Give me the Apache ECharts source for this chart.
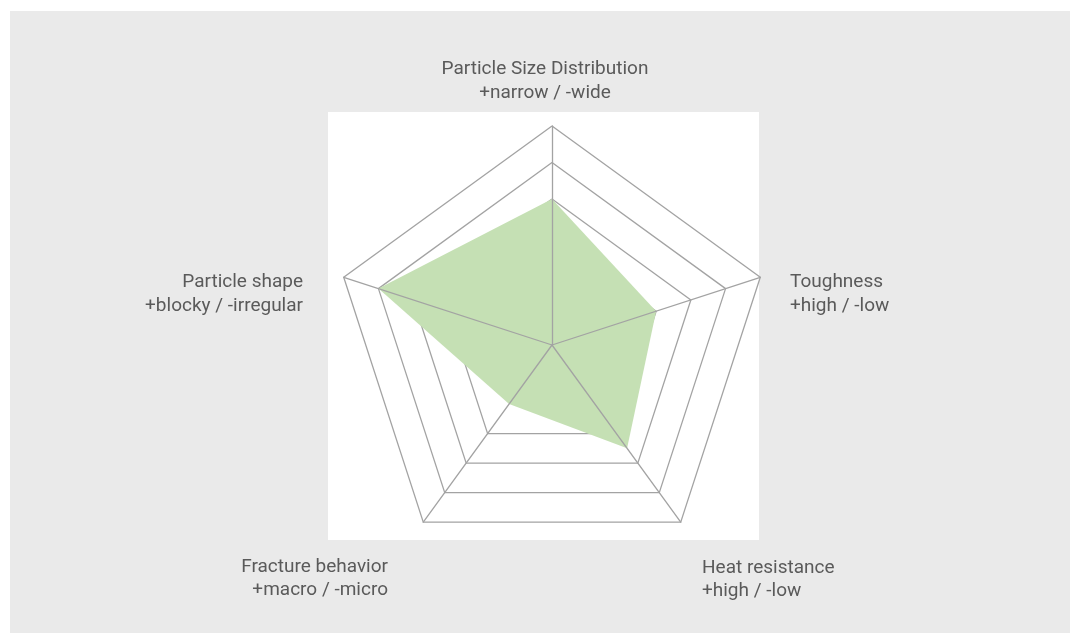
<!DOCTYPE html>
<html>
<head>
<meta charset="utf-8">
<script src="https://cdn.jsdelivr.net/npm/echarts@6/dist/echarts.min.js"></script>
<style>
  html, body { margin: 0; padding: 0; background: #ffffff; }
  #chart { width: 1070px; height: 633px; }
</style>
</head>
<body>
<div id="chart"></div>
<script>
// ---- data ----
const axisNames = ['Particle Size Distribution', 'Particle shape', 'Fracture behavior', 'Heat resistance', 'Toughness'];
const axisHints = ['+narrow / -wide', '+blocky / -irregular', '+macro / -micro', '+high / -low', '+high / -low'];
const values = [1, 2, -1, 0.5, 0];
const scaleMin = -3;
const scaleMax = 3;

// ---- chart ----
const chart = echarts.init(document.getElementById('chart'), null, { renderer: 'canvas' });

const lineGray = '#a3a3a3';
const textColor = '#5a5a5a';
const font = '19px Roboto';

const indicator = axisNames.map(n => ({ name: n, min: scaleMin, max: scaleMax }));

// label placement (layout only)
const labelPlace = [
  { x: 545, y: 57.5, align: 'center', lh: 24 },
  { x: 303, y: 270.5, align: 'right', lh: 24 },
  { x: 388, y: 556, align: 'right', lh: 23 },
  { x: 702, y: 556.5, align: 'left', lh: 23 },
  { x: 790, y: 270.5, align: 'left', lh: 24 }
];

const steps = scaleMax - scaleMin;
const ringColors = [];
for (let i = 0; i <= steps; i++) {
  ringColors.push(scaleMin + i >= 0 ? lineGray : 'rgba(0,0,0,0)');
}

const radarBase = {
  center: [552, 345],
  radius: 219,
  startAngle: 90,
  splitNumber: steps,
  shape: 'polygon',
  indicator: indicator,
  axisName: { show: false },
  axisTick: { show: false },
  axisLabel: { show: false },
  splitArea: { show: false }
};

const option = {
  backgroundColor: '#ffffff',
  animation: false,
  graphic: {
    elements: [
      { type: 'rect', z: -10, shape: { x: 10, y: 11, width: 1060, height: 622 }, style: { fill: '#eaeaea' }, silent: true },
      { type: 'rect', z: -9, shape: { x: 328, y: 112, width: 431, height: 428 }, style: { fill: '#ffffff' }, silent: true }
    ].concat(axisNames.map((n, i) => ({
      type: 'text',
      z: 10,
      x: labelPlace[i].x,
      y: labelPlace[i].y,
      style: {
        text: n + '\n' + axisHints[i],
        font: font,
        fill: textColor,
        align: labelPlace[i].align,
        verticalAlign: 'top',
        lineHeight: labelPlace[i].lh
      }
    })))
  },
  radar: [
    Object.assign({}, radarBase, {
      z: 1,
      axisLine: { show: false },
      splitLine: { show: true, lineStyle: { color: ringColors, width: 1.3 } }
    }),
    Object.assign({}, radarBase, {
      z: 3,
      axisLine: { show: true, lineStyle: { color: lineGray, width: 1.3 } },
      splitLine: { show: false }
    })
  ],
  series: [{
    type: 'radar',
    radarIndex: 0,
    z: 2,
    symbol: 'none',
    lineStyle: { width: 0, opacity: 0 },
    areaStyle: { color: '#c5e0b4', opacity: 1 },
    data: [{ value: values, name: 'Profile' }]
  }]
};

chart.setOption(option);
</script>
</body>
</html>
